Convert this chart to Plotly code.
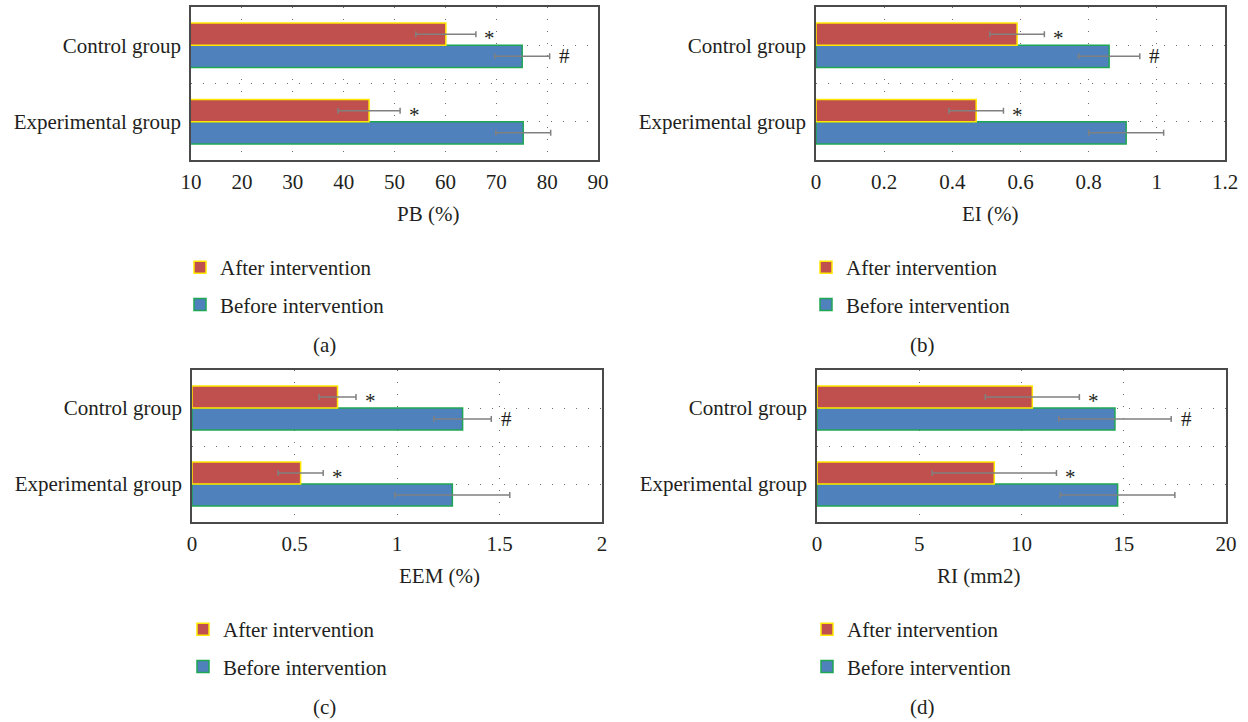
import plotly.graph_objects as go

# ---------------- data ----------------
categories = ["Experimental group", "Control group"]

pb_after = [45.0, 60.1]
pb_after_err = [6.1, 5.9]
pb_before = [75.3, 75.1]
pb_before_err = [5.4, 5.4]

ei_after = [0.47, 0.59]
ei_after_err = [0.08, 0.08]
ei_before = [0.91, 0.86]
ei_before_err = [0.11, 0.09]

eem_after = [0.53, 0.71]
eem_after_err = [0.11, 0.09]
eem_before = [1.27, 1.32]
eem_before_err = [0.28, 0.14]

ri_after = [8.67, 10.53]
ri_after_err = [3.04, 2.30]
ri_before = [14.70, 14.57]
ri_before_err = [2.80, 2.75]

after_marks = ["*", "*"]
before_marks = ["", "#"]

axis_titles = ["PB (%)", "EI (%)", "EEM (%)", "RI (mm2)"]
panel_labels = ["(a)", "(b)", "(c)", "(d)"]
x_ranges = [[10, 90], [0, 1.2], [0, 2], [0, 20]]
x_dticks = [10, 0.2, 0.5, 5]

# ---------------- style ----------------
W, H = 1248, 722
FONT = "Liberation Serif, Times New Roman, serif"
FS = 21
TXT = "#231F20"
RED = "#C0504D"
BLUE = "#4F81BD"
YELLOW = "#FFE800"
GREEN = "#1FA653"
GRID = "#6f6f6f"
BARGAP = 0.42

# pixel boxes of the four plot areas: (left, right, top, bottom)
boxes = [(191, 598, 7, 160), (816, 1225, 7, 160),
         (192, 602, 370, 522), (817, 1226, 370, 522)]
legend_text_x = [220, 846, 223, 847]

panels = [
    (pb_after, pb_after_err, pb_before, pb_before_err),
    (ei_after, ei_after_err, ei_before, ei_before_err),
    (eem_after, eem_after_err, eem_before, eem_before_err),
    (ri_after, ri_after_err, ri_before, ri_before_err),
]

ypos = list(range(len(categories)))
fig = go.Figure()
annotations = []
layout = dict(
    width=W, height=H, margin=dict(l=0, r=0, t=0, b=0, autoexpand=False),
    paper_bgcolor="white", plot_bgcolor="white",
    barmode="group", bargap=BARGAP, showlegend=True,
    font=dict(family=FONT, size=FS, color=TXT),
)

half = (1 - BARGAP) / 4  # centre offset of each bar inside the group

for i, (aft, aft_e, bef, bef_e) in enumerate(panels):
    n = "" if i == 0 else str(i + 1)
    xa, ya = "x" + n, "y" + n
    lg = "legend" + n
    l, r, t, b = boxes[i]

    fig.add_trace(go.Bar(
        x=bef, y=ypos, orientation="h", name="Before intervention",
        xaxis=xa, yaxis=ya, legend=lg, legendgroup="before", legendrank=2,
        marker=dict(color=BLUE, line=dict(color=GREEN, width=1.5)),
        error_x=dict(type="data", array=bef_e, color="#808080", thickness=1.5, width=3),
    ))
    fig.add_trace(go.Bar(
        x=aft, y=ypos, orientation="h", name="After intervention",
        xaxis=xa, yaxis=ya, legend=lg, legendgroup="after", legendrank=1,
        marker=dict(color=RED, line=dict(color=YELLOW, width=1.5)),
        error_x=dict(type="data", array=aft_e, color="#808080", thickness=1.5, width=3),
    ))

    # significance marks
    for k in ypos:
        if after_marks[k]:
            annotations.append(dict(
                x=aft[k] + aft_e[k], y=k + half, xref=xa, yref=ya,
                text=after_marks[k], showarrow=False, xshift=14, yshift=-4,
                font=dict(family=FONT, size=FS, color=TXT)))
        if before_marks[k]:
            annotations.append(dict(
                x=bef[k] + bef_e[k], y=k - half, xref=xa, yref=ya,
                text=before_marks[k], showarrow=False, xshift=15,
                font=dict(family=FONT, size=FS, color=TXT)))

    layout["xaxis" + n] = dict(
        domain=[l / W, r / W], anchor=ya, range=x_ranges[i], dtick=x_dticks[i],
        tick0=x_ranges[i][0], automargin=False,
        showgrid=True, gridcolor=GRID, gridwidth=1, griddash="1px,11px",
        zeroline=False, showline=True, mirror=True, linecolor="#4a4a4a", linewidth=1.5,
        ticks="", ticklabelstandoff=2, tickfont=dict(size=FS, color=TXT),
        fixedrange=True,
    )
    layout["yaxis" + n] = dict(
        domain=[1 - b / H, 1 - t / H], anchor=xa, range=[-0.5, 1.5],
        tickmode="array", tickvals=[0, 0.5, 1], automargin=False,
        ticktext=[categories[0], "", categories[1]],
        showgrid=True, gridcolor=GRID, gridwidth=1, griddash="1px,11px",
        zeroline=False, showline=True, mirror=True, linecolor="#4a4a4a", linewidth=1.5,
        ticks="", ticklabelstandoff=4, tickfont=dict(size=FS, color=TXT),
        fixedrange=True,
    )
    layout[lg] = dict(
        x=(legend_text_x[i] - 40) / W, xanchor="left",
        y=1 - (b + 87) / H, yanchor="top",
        traceorder="grouped", tracegroupgap=7,
        font=dict(family=FONT, size=FS, color=TXT),
        bgcolor="rgba(0,0,0,0)", itemclick=False, itemdoubleclick=False,
    )
    cx = (l + r) / 2 / W
    annotations.append(dict(
        x=cx, y=1 - (b + 54) / H, xref="paper", yref="paper",
        text=axis_titles[i], showarrow=False, yanchor="middle",
        font=dict(family=FONT, size=FS, color=TXT)))
    annotations.append(dict(
        x=(311 if i % 2 == 0 else 937) / W, y=1 - (b + 185) / H,
        xref="paper", yref="paper", text=panel_labels[i], showarrow=False,
        yanchor="middle", font=dict(family=FONT, size=FS, color=TXT)))

layout["annotations"] = annotations
fig.update_layout(**layout)
fig.write_html("out.html", config={"displayModeBar": False},
               post_script="document.body.style.margin='0';")
